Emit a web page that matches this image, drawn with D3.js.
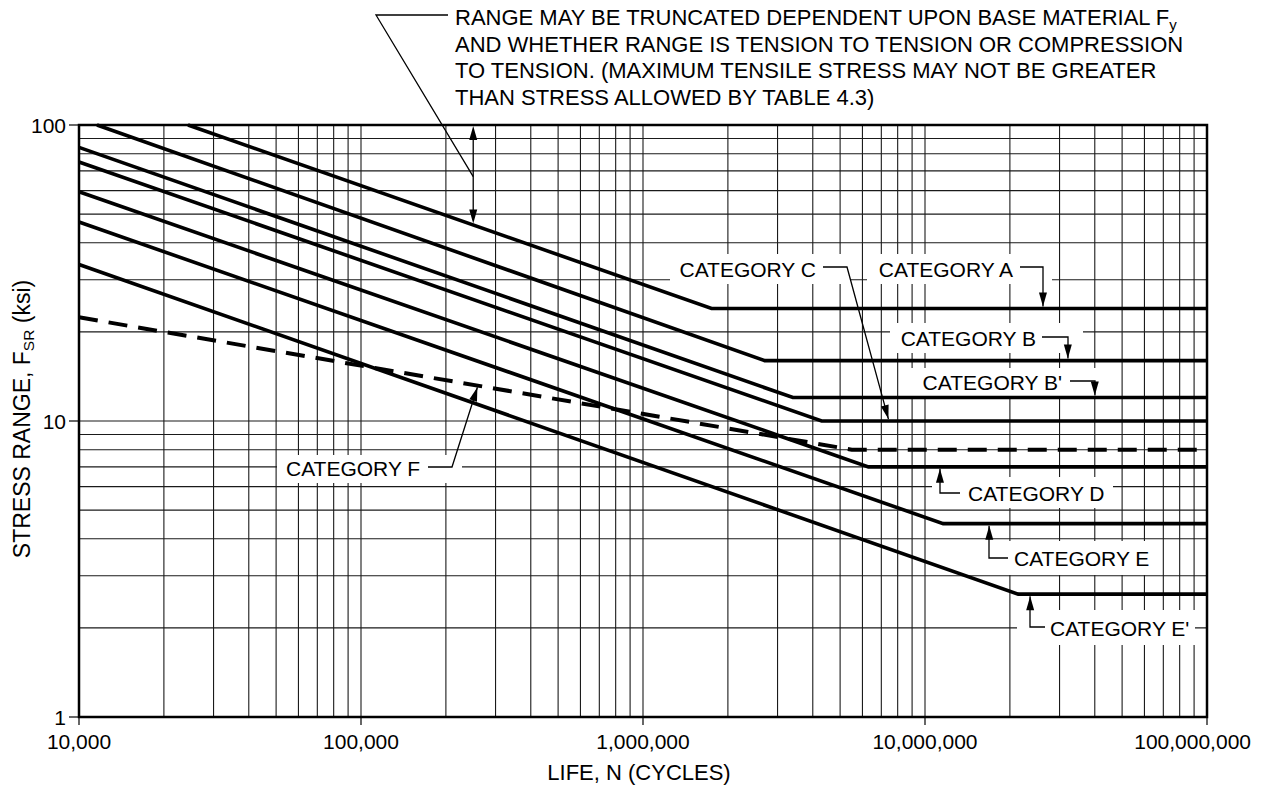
<!DOCTYPE html>
<html>
<head>
<meta charset="utf-8">
<script src="https://cdn.jsdelivr.net/npm/d3@7"></script>
<style>
  html, body { margin: 0; padding: 0; background: #fff; }
  svg { display: block; }
  text { font-family: "Liberation Sans", Arial, Helvetica, sans-serif; fill: #000; }
</style>
</head>
<body>
<svg id="chart" width="1262" height="788"></svg>
<script>
// Fatigue design curves: stress range (ksi) vs. life N (cycles)
const categoryA  = [[24350, 100], [1.75e6, 24], [1e8, 24]];
const categoryB  = [[11580, 100], [2.7e6, 16], [1e8, 16]];
const categoryB1 = [[1e4, 84], [3.4e6, 12], [1e8, 12]];
const categoryC  = [[1e4, 75], [4.3e6, 10], [1e8, 10]];
const categoryD  = [[1e4, 59.5], [6.3e6, 7], [1e8, 7]];
const categoryE  = [[1e4, 47], [1.16e7, 4.5], [1e8, 4.5]];
const categoryE1 = [[1e4, 33.8], [2.14e7, 2.6], [1e8, 2.6]];
const categoryF  = [[1e4, 22.4], [5.5e6, 8], [1e8, 8]];

const solidCurves = [categoryA, categoryB, categoryB1, categoryC, categoryD, categoryE, categoryE1];

const xTickValues = [1e4, 1e5, 1e6, 1e7, 1e8];
const xTickLabels = ["10,000", "100,000", "1,000,000", "10,000,000", "100,000,000"];
const yTickValues = [1, 10, 100];
const yTickLabels = ["1", "10", "100"];

// Category callouts: arrow tip in data units, label text, label box/leader in px
const callouts = [
  { text: "CATEGORY A",  tip: [2.62e7, 24],  dir: "down", tx: 1013, ty: 269, anchor: "end",   leader: [[1020, 267], [1043, 267]], box: [867, 254, 185, 30] },
  { text: "CATEGORY B",  tip: [3.21e7, 16],  dir: "down", tx: 1036, ty: 338, anchor: "end",   leader: [[1042, 337], [1068, 337]], box: [890, 323, 193, 30] },
  { text: "CATEGORY B'", tip: [4.0e7, 12],   dir: "down", tx: 1062, ty: 382, anchor: "end",   leader: [[1070, 381], [1095, 381]], box: [910, 368, 195, 28] },
  { text: "CATEGORY C",  tip: [7.45e6, 10],  dir: "diag", tx: 816,  ty: 269, anchor: "end",   leader: [[823, 267], [847, 267]],   box: [670, 254, 180, 30] },
  { text: "CATEGORY D",  tip: [1.13e7, 7],   dir: "up",   tx: 968,  ty: 493, anchor: "start", leader: [[960, 493], [940, 493]],   box: [932, 477, 181, 31] },
  { text: "CATEGORY E",  tip: [1.69e7, 4.5], dir: "up",   tx: 1014, ty: 558, anchor: "start", leader: [[1008, 558], [989, 558]],  box: [985, 541, 172, 34] },
  { text: "CATEGORY E'", tip: [2.36e7, 2.6], dir: "up",   tx: 1050, ty: 628, anchor: "start", leader: [[1045, 627], [1030, 627]], box: [1017, 610, 178, 35] },
  { text: "CATEGORY F",  tip: [2.6e5, 13.2], dir: "diag", tx: 286,  ty: 468, anchor: "start", leader: [[428, 467], [452, 467]],   box: [277, 455, 185, 28] }
];

const noteLines = [
  "RANGE MAY BE TRUNCATED DEPENDENT UPON BASE MATERIAL F",
  "AND WHETHER RANGE IS TENSION TO TENSION OR COMPRESSION",
  "TO TENSION. (MAXIMUM TENSILE STRESS MAY NOT BE GREATER",
  "THAN STRESS ALLOWED BY TABLE 4.3)"
];
const noteRange = [[2.5e5, 100], [2.5e5, 46.5]];

const svg = d3.select("#chart");
const plotLeft = 79, plotRight = 1207, plotTop = 125, plotBottom = 717;

const x = d3.scaleLog().domain([1e4, 1e8]).range([plotLeft, plotRight]);
const y = d3.scaleLog().domain([1, 100]).range([plotBottom, plotTop]);

// background
svg.append("rect").attr("width", 1262).attr("height", 788).attr("fill", "#fff");

// log grid
const grid = svg.append("g").attr("stroke", "#1a1a1a").attr("stroke-width", 1.1);
x.ticks().filter(v => v > 1e4 && v < 1e8).forEach(v => {
  grid.append("line").attr("x1", x(v)).attr("x2", x(v)).attr("y1", plotTop).attr("y2", plotBottom);
});
y.ticks().filter(v => v > 1 && v < 100).forEach(v => {
  grid.append("line").attr("x1", plotLeft).attr("x2", plotRight).attr("y1", y(v)).attr("y2", y(v));
});

// white boxes behind callout labels
callouts.forEach(c => {
  svg.append("rect").attr("x", c.box[0]).attr("y", c.box[1])
    .attr("width", c.box[2]).attr("height", c.box[3]).attr("fill", "#fff");
});

// curves
const line = d3.line().x(d => x(d[0])).y(d => y(d[1]));
const curves = svg.append("g").attr("fill", "none").attr("stroke", "#000")
  .attr("stroke-linejoin", "miter");
solidCurves.forEach(c => {
  curves.append("path").attr("d", line(c)).attr("stroke-width", 3.6);
});
curves.append("path").attr("d", line(categoryF)).attr("stroke-width", 4)
  .attr("stroke-dasharray", "19,11");

// frame
svg.append("rect").attr("x", plotLeft).attr("y", plotTop)
  .attr("width", plotRight - plotLeft).attr("height", plotBottom - plotTop)
  .attr("fill", "none").attr("stroke", "#000").attr("stroke-width", 2.5);

// axes
const xAxis = svg.append("g");
xTickValues.forEach((v, i) => {
  xAxis.append("line").attr("x1", x(v)).attr("x2", x(v)).attr("y1", plotBottom).attr("y2", plotBottom + 8)
    .attr("stroke", "#000").attr("stroke-width", 1.2);
  const lbl = xAxis.append("text").attr("y", plotBottom + 32).attr("font-size", 21).text(xTickLabels[i]);
  // keep the last label inside the page edge
  if (i === xTickValues.length - 1) lbl.attr("x", x(v) + 44).attr("text-anchor", "end");
  else lbl.attr("x", x(v)).attr("text-anchor", "middle");
});
const yAxis = svg.append("g");
yTickValues.forEach((v, i) => {
  yAxis.append("line").attr("x1", plotLeft - 10).attr("x2", plotLeft).attr("y1", y(v)).attr("y2", y(v))
    .attr("stroke", "#000").attr("stroke-width", 1.2);
  yAxis.append("text").attr("x", plotLeft - 13).attr("y", y(v) + 8).attr("text-anchor", "end")
    .attr("font-size", 21).text(yTickLabels[i]);
});

svg.append("text").attr("x", 639).attr("y", 780).attr("text-anchor", "middle")
  .attr("font-size", 22).text("LIFE, N (CYCLES)");

const yTitle = svg.append("text").attr("transform", "translate(29.5,419) rotate(-90)")
  .attr("text-anchor", "middle").attr("font-size", 23);
yTitle.append("tspan").text("STRESS RANGE, F");
yTitle.append("tspan").attr("font-size", 15.5).attr("dy", 4).text("SR");
yTitle.append("tspan").attr("dy", -4).text(" (ksi)");

// arrowhead helper: tip at (tx,ty), pointing along angle (radians)
function arrowhead(g, tx, ty, ang) {
  const L = 14, W = 4;
  const bx = tx - L * Math.cos(ang), by = ty - L * Math.sin(ang);
  const px = -Math.sin(ang) * W, py = Math.cos(ang) * W;
  g.append("path")
    .attr("d", `M${tx},${ty}L${bx + px},${by + py}L${bx - px},${by - py}Z`)
    .attr("fill", "#000").attr("stroke", "none");
}

// callouts
const ann = svg.append("g");
callouts.forEach(c => {
  const tx = x(c.tip[0]);
  let ty = y(c.tip[1]);
  const [p0, p1] = c.leader;
  let ang;
  if (c.dir === "down") { ty -= 2; ang = Math.PI / 2; }
  else if (c.dir === "up") { ty += 2; ang = -Math.PI / 2; }
  else { ang = Math.atan2(ty - p1[1], tx - p1[0]); ty -= 2 * Math.sin(ang); }
  const tipX = c.dir === "diag" ? tx - 2 * Math.cos(ang) : tx;
  const pts = c.dir === "diag" ? [p0, p1, [tipX, ty]] : [p0, p1, [p1[0], ty]];
  ann.append("path").attr("d", d3.line()(pts)).attr("fill", "none")
    .attr("stroke", "#000").attr("stroke-width", 1.3);
  arrowhead(ann, tipX, ty, ang);
  ann.append("text").attr("x", c.tx).attr("y", c.ty + 7.5).attr("text-anchor", c.anchor)
    .attr("font-size", 21).text(c.text);
});

// truncation note with double-headed arrow
const noteX = x(noteRange[0][0]);
const y0 = y(noteRange[0][1]) + 1, y1 = y(noteRange[1][1]);
ann.append("line").attr("x1", noteX).attr("x2", noteX).attr("y1", y0 + 10).attr("y2", y1 - 10)
  .attr("stroke", "#000").attr("stroke-width", 1.3);
arrowhead(ann, noteX, y0, -Math.PI / 2);
arrowhead(ann, noteX, y1, Math.PI / 2);
const midY = y0 + (y1 - y0) * 0.52;
ann.append("path").attr("d", d3.line()([[448, 15], [376, 15], [noteX, midY]]))
  .attr("fill", "none").attr("stroke", "#000").attr("stroke-width", 1.3);

const note = svg.append("g");
noteLines.forEach((t, i) => {
  const tEl = note.append("text").attr("x", 455).attr("y", 25 + i * 26.7).attr("font-size", 22);
  tEl.append("tspan").text(t);
  if (i === 0) tEl.append("tspan").attr("font-size", 15).attr("dy", 5).text("y");
});
</script>
</body>
</html>
